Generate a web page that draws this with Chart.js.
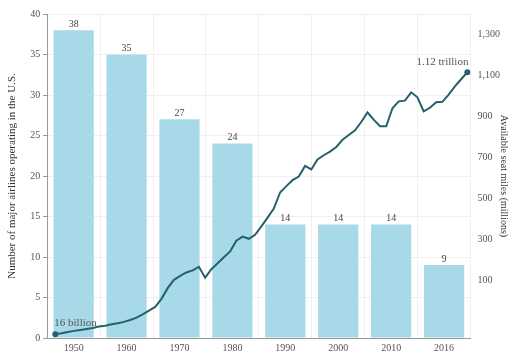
<!DOCTYPE html>
<html>
<head>
<meta charset="utf-8">
<script src="https://cdn.jsdelivr.net/npm/chart.js@4/dist/chart.umd.min.js"></script>
<style>
  html, body { margin: 0; padding: 0; background: #fff; }
  #wrap { width: 511px; height: 358px; }
</style>
</head>
<body>
<div id="wrap"><canvas id="airlinesChart" width="511" height="358"></canvas></div>
<script>
// Datos
var decadas = ['1950', '1960', '1970', '1980', '1990', '2000', '2010', '2016'];
var aerolineas = [38, 35, 27, 24, 14, 14, 14, 9];

var anios = [1950, 1951, 1952, 1953, 1954, 1955, 1956, 1957, 1958, 1959,
    1960, 1961, 1962, 1963, 1964, 1965, 1966, 1967, 1968, 1969,
    1970, 1971, 1972, 1973, 1974, 1975, 1976, 1977, 1978, 1979,
    1980, 1981, 1982, 1983, 1984, 1985, 1986, 1987, 1988, 1989,
    1990, 1991, 1992, 1993, 1994, 1995, 1996, 1997, 1998, 1999,
    2000, 2001, 2002, 2003, 2004, 2005, 2006, 2007, 2008, 2009,
    2010, 2011, 2012, 2013, 2014, 2015, 2016];
// millas-asiento disponibles (miles de millones)
var millasAsiento = [16, 20, 25, 30, 34, 38, 42, 48, 52, 58,
    62, 68, 76, 86, 100, 115, 131, 165, 210, 245,
    262, 276, 285, 300, 254, 290, 315, 340, 365, 410,
    427, 418, 435, 470, 507, 545, 613, 640, 665, 680,
    725, 710, 752, 770, 785, 805, 835, 855, 875, 910,
    950, 920, 892, 892, 968, 997, 1000, 1035, 1014, 955,
    970, 993, 995, 1025, 1060, 1090, 1120];

var ticksIzq = [0, 5, 10, 15, 20, 25, 30, 35, 40];
var ticksDer = [100, 300, 500, 700, 900, 1100, 1300];
var etiquetaInicio = '16 billion';
var etiquetaFin = '1.12 trillion';

var fuente = '"Liberation Serif", "DejaVu Serif", serif';
var colorBarra = '#a8d9e9';
var colorLinea = '#24616b';

var puntosLinea = anios.map(function (a, i) { return { x: a, y: millasAsiento[i] }; });

// Etiquetas sobre las barras y en los extremos de la linea
var etiquetasPlugin = {
    id: 'etiquetas',
    afterDatasetsDraw: function (chart) {
        var ctx = chart.ctx;
        ctx.save();
        ctx.font = '10px ' + fuente;
        ctx.fillStyle = '#444';
        ctx.textAlign = 'center';
        ctx.textBaseline = 'bottom';
        chart.getDatasetMeta(1).data.forEach(function (bar, i) {
            ctx.fillText(aerolineas[i], bar.x, bar.y - 1);
        });
        var pts = chart.getDatasetMeta(0).data;
        var p0 = pts[0], pN = pts[pts.length - 1];
        ctx.font = '11px ' + fuente;
        ctx.fillStyle = '#555';
        ctx.textAlign = 'left';
        ctx.fillText(etiquetaInicio, p0.x - 1, p0.y - 6);
        ctx.textAlign = 'right';
        ctx.fillText(etiquetaFin, pN.x + 1, pN.y - 5);
        ctx.restore();
    }
};

var ctx = document.getElementById('airlinesChart').getContext('2d');

var myChart = new Chart(ctx, {
    type: 'bar',
    data: {
        labels: decadas,
        datasets: [{
            type: 'line',
            label: 'Available seat miles',
            data: puntosLinea,
            xAxisID: 'x2',
            yAxisID: 'y2',
            borderColor: colorLinea,
            borderWidth: 2,
            tension: 0,
            pointRadius: function (c) { return (c.dataIndex === 0 || c.dataIndex === anios.length - 1) ? 3 : 0; },
            pointBackgroundColor: colorLinea,
            pointBorderWidth: 0,
            order: 0
        }, {
            label: 'Airlines',
            data: aerolineas,
            xAxisID: 'x',
            yAxisID: 'y',
            backgroundColor: colorBarra,
            grouped: false,
            barPercentage: 0.76,
            categoryPercentage: 1,
            order: 1
        }]
    },
    options: {
        responsive: false,
        animation: false,
        layout: { padding: { top: 14, right: 0, bottom: 0, left: 6 } },
        plugins: {
            legend: { display: false },
            tooltip: { enabled: false }
        },
        scales: {
            x: {
                grid: { color: '#f0f0f0', offset: true, drawTicks: false },
                border: { color: '#999' },
                ticks: { color: '#555', font: { family: fuente, size: 10 }, padding: 4 }
            },
            x2: {
                type: 'linear',
                display: false,
                offset: false,
                grid: { offset: false },
                min: 1948.7,
                max: 2016.5
            },
            y: {
                position: 'left',
                min: 0,
                max: 40,
                afterBuildTicks: function (s) { s.ticks = ticksIzq.map(function (v) { return { value: v }; }); },
                grid: { color: '#f0f0f0', tickColor: '#999', tickLength: 4 },
                border: { color: '#999' },
                ticks: { color: '#555', font: { family: fuente, size: 10 }, padding: 3 },
                title: {
                    display: true,
                    text: 'Number of major airlines operating in the U.S.',
                    color: '#333',
                    font: { family: fuente, size: 11 },
                    padding: { top: 0, bottom: 8 }
                }
            },
            y1: {
                position: 'right',
                min: -178,
                max: 1398,
                afterBuildTicks: function (s) { s.ticks = ticksDer.map(function (v) { return { value: v }; }); },
                grid: { drawOnChartArea: false, drawTicks: false },
                border: { display: false },
                ticks: {
                    color: '#555',
                    font: { family: fuente, size: 10 },
                    padding: 7,
                    callback: function (v) { return v.toLocaleString('en-US'); }
                },
                title: {
                    display: true,
                    text: 'Available seat miles (millions)',
                    color: '#333',
                    font: { family: fuente, size: 10 },
                    padding: { top: 1, bottom: -9 }
                }
            },
            y2: {
                display: false,
                min: 0,
                max: 1365
            }
        }
    },
    plugins: [etiquetasPlugin]
});
</script>
</body>
</html>
